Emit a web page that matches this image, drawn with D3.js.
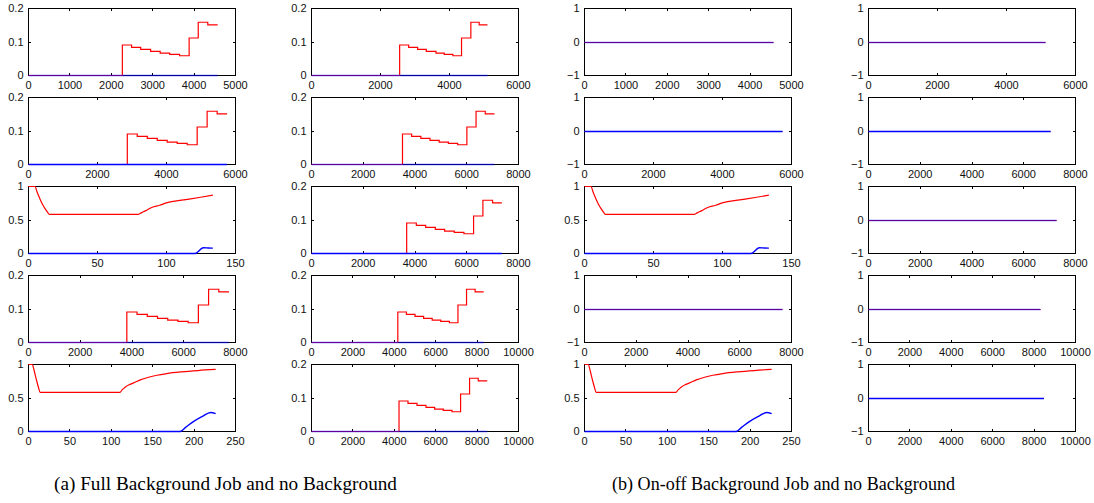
<!DOCTYPE html>
<html><head><meta charset="utf-8">
<script src="https://cdn.jsdelivr.net/npm/d3@7"></script>
<style>body{margin:0;background:#fff}svg{display:block}</style>
</head><body>
<svg id="c" width="1094" height="503"></svg>
<script>
// ---------- data ----------
const stepLevels = [0.091,0.084,0.078,0.072,0.067,0.063,0.059,0.112,0.159,0.151];
const breaksA1 = [2267,2490,2710,2950,3180,3410,3650,3880,4100,4330,4570];
const breaksB1 = [2555,2816,3076,3327,3607,3848,4098,4349,4619,4860,5100];
const breaksA2 = [2864,3153,3443,3732,4021,4311,4600,4889,5178,5468,5757];
const breaksB2 = [3517,3870,4225,4580,4935,5290,5650,6005,6360,6715,7072];
const breaksB3 = [3678,4051,4412,4785,5145,5518,5891,6264,6624,6997,7357];
const breaksA4 = [3800,4195,4590,4985,5380,5775,6170,6565,6960,7355,7750];
const breaksB4 = [4170,4585,5000,5415,5830,6245,6660,7075,7490,7905,8320];
const breaksB5 = [4228,4662,5096,5531,5949,6367,6785,7203,7637,8055,8489];

const redR3  = [[0,1],[4.8,1],[6,0.93],[8,0.83],[10,0.74],[12,0.67],[14,0.61],[15,0.585],[79.6,0.585],[82,0.61],[85,0.64],[88.5,0.68],[95,0.72],[100.5,0.76],[112.6,0.80],[124.7,0.84],[133.6,0.87]];
const blueR3 = [[0,0],[120.6,0],[126.6,0.085],[130,0.083],[133.6,0.08]];
const redR5  = [[0,1],[4.8,1],[6,0.95],[8,0.85],[10,0.75],[12,0.66],[14,0.585],[110.5,0.585],[113,0.62],[117,0.665],[122,0.70],[127,0.725],[135,0.77],[145,0.81],[155,0.84],[167,0.865],[185,0.89],[205,0.91],[226,0.926]];
const blueR5 = [[0,0],[183,0],[190,0.065],[200,0.155],[210,0.225],[220,0.284],[226,0.266]];

const zeroEndCol3 = [4566,5740,null,7654,null];
const zeroEndCol4 = [5132,7038,7270,8312,8473];

const xMax = [[5000,6000,5000,6000],[6000,8000,6000,8000],[150,8000,150,8000],[8000,10000,8000,10000],[250,10000,250,10000]];
const xTickSets = {
  5000:[0,1000,2000,3000,4000,5000],
  6000:[0,2000,4000,6000],
  8000:[0,2000,4000,6000,8000],
  10000:[0,2000,4000,6000,8000,10000],
  150:[0,50,100,150],
  250:[0,50,100,150,200,250]
};
const yTicksStep = [0,0.1,0.2];
const yTicksCurve = [0,0.5,1];
const yTicksZero = [-1,0,1];
const captions = ["(a) Full Background Job and no Background","(b) On-off Background Job and no Background"];

const panels = [
  [{t:"step",b:breaksA1},{t:"step",b:breaksB1},{t:"zero",e:zeroEndCol3[0]},{t:"zero",e:zeroEndCol4[0]}],
  [{t:"step",b:breaksA2},{t:"step",b:breaksB2},{t:"zero",e:zeroEndCol3[1]},{t:"zero",e:zeroEndCol4[1]}],
  [{t:"curve",r:redR3,bl:blueR3},{t:"step",b:breaksB3},{t:"curve",r:redR3,bl:blueR3},{t:"zero",e:zeroEndCol4[2]}],
  [{t:"step",b:breaksA4},{t:"step",b:breaksB4},{t:"zero",e:zeroEndCol3[3]},{t:"zero",e:zeroEndCol4[3]}],
  [{t:"curve",r:redR5,bl:blueR5},{t:"step",b:breaksB5},{t:"curve",r:redR5,bl:blueR5},{t:"zero",e:zeroEndCol4[4]}]
];
// style: blue drawn opaque (true) or blended over red (false)
const blueSolid = [
  [false,false,false,false],
  [true,false,true,true],
  [true,true,true,false],
  [false,false,false,false],
  [true,false,true,true]
];

// ---------- layout ----------
const colLeft = [28,311,584,868];
const rowTop = [8,97,186,275,364];
const W = 207, H = 67;
const font = "'Liberation Sans', Arial, sans-serif";

const svg = d3.select("#c");
const fmt = v => (v<0 ? "\u2212"+Math.abs(v) : String(v));

for (let r=0;r<5;r++){
  for (let c=0;c<4;c++){
    const p = panels[r][c];
    const x0 = colLeft[c], y0 = rowTop[r];
    const xm = xMax[r][c];
    const x = d3.scaleLinear().domain([0,xm]).range([x0+0.5,x0+W+0.5]);
    let yDom, yT;
    if (p.t==="step"){yDom=[0,0.2];yT=yTicksStep;}
    else if (p.t==="curve"){yDom=[0,1];yT=yTicksCurve;}
    else {yDom=[-1,1];yT=yTicksZero;}
    const y = d3.scaleLinear().domain(yDom).range([y0+H+0.5,y0+0.5]);
    const g = svg.append("g");
    const xt = xTickSets[xm];

    g.append("rect").attr("x",x0+0.5).attr("y",y0+0.5).attr("width",W).attr("height",H)
      .attr("fill","none").attr("stroke","#000").attr("stroke-width",1);
    const tl = 2.5;
    xt.forEach(v=>{
      const px = Math.round(x(v)-0.5)+0.5;
      g.append("line").attr("x1",px).attr("x2",px).attr("y1",y0+H+0.5).attr("y2",y0+H+0.5-tl).attr("stroke","#000");
      g.append("line").attr("x1",px).attr("x2",px).attr("y1",y0+0.5).attr("y2",y0+0.5+tl).attr("stroke","#000");
      g.append("text").attr("x",x(v)).attr("y",y0+H+13.5).attr("text-anchor","middle")
        .attr("font-family",font).attr("font-size",11).attr("fill","#111").text(fmt(v));
    });
    yT.forEach(v=>{
      const py = Math.round(y(v)-0.5)+0.5;
      g.append("line").attr("x1",x0+0.5).attr("x2",x0+0.5+tl).attr("y1",py).attr("y2",py).attr("stroke","#000");
      g.append("line").attr("x1",x0+W+0.5).attr("x2",x0+W+0.5-tl).attr("y1",py).attr("y2",py).attr("stroke","#000");
      g.append("text").attr("x",x0-4.5).attr("y",y(v)).attr("dy","0.36em").attr("text-anchor","end")
        .attr("font-family",font).attr("font-size",11).attr("fill","#111").text(fmt(v));
    });

    let redPts, bluePts, curve = d3.curveLinear, bcurve = d3.curveLinear;
    if (p.t==="step"){
      redPts = [[0,0]];
      p.b.forEach((bx,i)=>{ if(i<stepLevels.length) redPts.push([bx,stepLevels[i]]); });
      redPts.push([p.b[p.b.length-1], stepLevels[stepLevels.length-1]]);
      bluePts = [[0,0],[p.b[p.b.length-1],0]];
      curve = d3.curveStepAfter;
    } else if (p.t==="curve"){
      redPts = p.r; bluePts = p.bl; curve = d3.curveMonotoneX; bcurve = d3.curveMonotoneX;
    } else {
      redPts = [[0,0],[p.e,0]]; bluePts = [[0,0],[p.e,0]];
    }
    const solid = blueSolid[r][c];
    const yy = d => (d[1]===0 && p.t==="zero") ? Math.round(y(0)-0.5)+0.5 : y(d[1]);
    g.append("path").attr("d",d3.line().x(d=>x(d[0])).y(yy).curve(curve)(redPts)).attr("fill","none")
      .attr("stroke","#ff0000").attr("stroke-width",1.2);
    g.append("path").attr("d",d3.line().x(d=>x(d[0])).y(yy).curve(bcurve)(bluePts)).attr("fill","none")
      .attr("stroke","#0000ff").attr("stroke-width", solid ? 1.4 : 1.3)
      .attr("stroke-opacity", solid ? 1 : 0.6);
  }
}

const capX = [225.5, 783.5];
captions.forEach((t,i)=>{
  svg.append("text").attr("x",capX[i]).attr("y",490).attr("text-anchor","middle")
    .attr("font-family","'Liberation Serif', 'Times New Roman', serif").attr("font-size",18)
    .attr("textLength",343).attr("lengthAdjust","spacingAndGlyphs").attr("fill","#000").text(t);
});
</script>
</body></html>
